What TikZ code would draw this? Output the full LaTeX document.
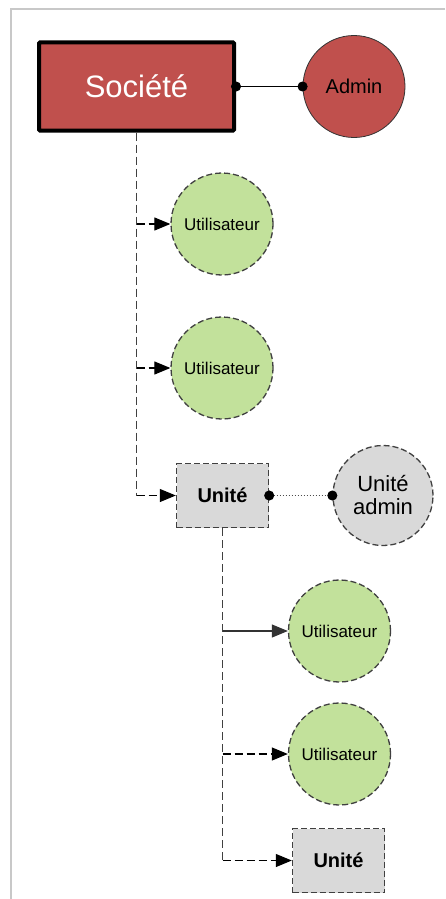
\documentclass[tikz,border=0pt]{standalone}
\usepackage{fontspec}
\setmainfont{Liberation Sans}
\usetikzlibrary{arrows.meta}
\definecolor{socred}{RGB}{192,80,77}
\definecolor{usergreen}{RGB}{194,225,155}
\definecolor{unitgray}{RGB}{217,217,217}
\definecolor{edgegray}{RGB}{64,64,64}
\definecolor{framegray}{RGB}{200,200,200}
\tikzset{
  socbox/.style={rectangle, draw=black, line width=4pt, fill=socred, minimum width=195pt, minimum height=88pt, inner sep=0pt, text=white, font=\fontsize{31}{36}\selectfont, rounded corners=1pt},
  admincirc/.style={circle, draw=black!80, line width=0.8pt, fill=socred, minimum size=102pt, inner sep=0pt, font=\fontsize{20}{24}\selectfont},
  usercirc/.style={circle, draw=edgegray, dash pattern=on 6pt off 3pt, line width=1.3pt, fill=usergreen, minimum size=102pt, inner sep=0pt, font=\fontsize{17}{20}\selectfont},
  unitbox/.style={rectangle, draw=edgegray, dash pattern=on 6pt off 3pt, line width=1.4pt, fill=unitgray, minimum width=92pt, minimum height=64pt, inner sep=0pt, font=\fontsize{20}{24}\selectfont\bfseries},
  unitadmin/.style={circle, draw=edgegray, dash pattern=on 6pt off 3pt, line width=1.3pt, fill=unitgray, minimum size=100pt, inner sep=0pt, align=center, font=\fontsize{22}{23}\selectfont},
  trunk/.style={draw=edgegray, line width=1.1pt, dash pattern=on 8pt off 4pt},
  branch/.style={draw=black, line width=1.1pt, dash pattern=on 8pt off 4pt, -{Triangle[length=16pt,width=13pt]}},
  solidbranch/.style={draw=black!80, line width=1.1pt, -{Triangle[length=16pt,width=13pt]}},
  link/.style={draw=black, line width=1pt, {Circle[length=10pt]}-{Circle[length=10pt]}, shorten <=-5pt, shorten >=-5pt},
  dotlink/.style={draw=black!70, line width=1pt, dotted, {Circle[length=10pt,color=black]}-{Circle[length=10pt,color=black]}, shorten <=-5pt, shorten >=-5pt}
}
\begin{document}
\begin{tikzpicture}[x=1pt,y=-1pt]
\useasboundingbox (0,0) rectangle (445,899);
\draw[framegray, line width=2pt] (445,9) -- (11,9) -- (11,899);

\node[socbox] (soc) at (136.5,86.5) {Société};
\node[admincirc] (admin) at (354,86.5) {Admin};
\node[usercirc] (u1) at (222,224) {Utilisateur};
\node[usercirc] (u2) at (222,368) {Utilisateur};
\node[unitbox] (unit) at (222.5,495.5) {Unité};
\node[unitadmin] (uadmin) at (383,495.5) {Unité\\admin};
\node[usercirc] (u3) at (339.5,631) {Utilisateur};
\node[usercirc] (u4) at (339.5,754) {Utilisateur};
\node[unitbox] (unit2) at (338.5,860.5) {Unité};

\draw[link] (soc.east) -- (admin.west);
\draw[dotlink] (unit.east) -- (uadmin.west);

\draw[trunk] (soc.south) -- (soc.south |- unit.west);
\draw[branch] (soc.south |- u1) -- (u1.west);
\draw[branch] (soc.south |- u2) -- (u2.west);
\draw[branch] (soc.south |- unit.west) -- (unit.west);

\draw[trunk] (unit.south) -- (unit.south |- unit2.west);
\draw[solidbranch] (unit.south |- u3) -- (u3.west);
\draw[branch] (unit.south |- u4) -- (u4.west);
\draw[branch] (unit.south |- unit2.west) -- (unit2.west);
\end{tikzpicture}
\end{document}
